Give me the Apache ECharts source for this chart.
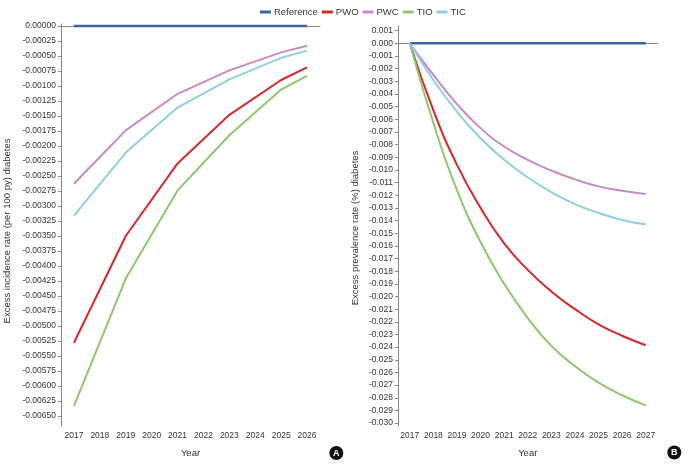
<!DOCTYPE html>
<html>
<head>
<meta charset="utf-8">
<script src="https://cdn.jsdelivr.net/npm/echarts@6/dist/echarts.min.js"></script>
<style>
html,body{margin:0;padding:0;background:#fff;}
#chart{width:690px;height:464px;}
</style>
</head>
<body>
<div id="chart"></div>
<script>
// ---- Data ----
var seriesNames = ['Reference', 'PWO', 'PWC', 'TIO', 'TIC'];

// Panel A: excess incidence rate (per 100 py), vertices at odd years + 2026
var incidenceYears = ['2017','2018','2019','2020','2021','2022','2023','2024','2025','2026'];
var incReference = [0, null, 0, null, 0, null, 0, null, 0, 0];
var incPWO = [-0.00528, null, -0.00350, null, -0.00229, null, -0.00148, null, -0.00090, -0.00069];
var incPWC = [-0.00263, null, -0.00174, null, -0.00113, null, -0.00074, null, -0.00044, -0.00033];
var incTIO = [-0.00633, null, -0.00421, null, -0.00274, null, -0.00182, null, -0.00106, -0.00083];
var incTIC = [-0.00316, null, -0.00211, null, -0.00136, null, -0.00089, null, -0.00053, -0.00041];

// Panel B: excess prevalence rate (%)
var prevalenceYears = ['2017','2018','2019','2020','2021','2022','2023','2024','2025','2026','2027'];
var prevReference = [0, 0, 0, 0, 0, 0, 0, 0, 0, 0, 0];
var prevPWO = [0, -0.0053, -0.0096, -0.0130, -0.0158, -0.0179, -0.0196, -0.0210, -0.0222, -0.0231, -0.02385];
var prevPWC = [0, -0.0025, -0.0048, -0.0067, -0.00815, -0.0092, -0.01005, -0.01075, -0.0113, -0.01165, -0.0119];
var prevTIO = [0, -0.0063, -0.0116, -0.0157, -0.0190, -0.0217, -0.0239, -0.0255, -0.0268, -0.0278, -0.0286];
var prevTIC = [0, -0.0029, -0.0054, -0.0075, -0.0092, -0.0106, -0.01175, -0.0127, -0.0134, -0.01395, -0.0143];

// Tick labels
var incidenceTicks = [];
for (var i = 0; i <= 26; i++) incidenceTicks.push(-i * 0.00025);
var prevalenceTicks = [];
for (var j = -1; j <= 30; j++) prevalenceTicks.push(-j / 1000);

// ---- Styling ----
var colors = {
  'Reference': '#3b63a6',
  'PWO': '#d8262d',
  'PWC': '#c88ac2',
  'TIO': '#8dc86e',
  'TIC': '#90cfe2'
};
var FONT = "'Liberation Sans', Arial, sans-serif";
var axisColor = '#888888';
var textColor = '#333333';

function makeSeries(name, data, idx, smooth) {
  return {
    name: name,
    type: 'line',
    xAxisIndex: idx,
    yAxisIndex: idx,
    data: data,
    connectNulls: true,
    smooth: smooth ? 0.5 : false,
    showSymbol: false,
    symbol: 'none',
    animation: false,
    lineStyle: { color: colors[name], width: name === 'Reference' ? 2.5 : 2 },
    itemStyle: { color: colors[name] },
    z: name === 'Reference' ? 1 : 2
  };
}

function xAxisDef(idx, cats) {
  return {
    type: 'category',
    gridIndex: idx,
    data: cats,
    boundaryGap: true,
    name: 'Year',
    nameLocation: 'middle',
    nameGap: 22,
    nameTextStyle: { fontFamily: FONT, fontSize: 9.5, color: textColor },
    axisLine: { lineStyle: { color: axisColor, width: 1 } },
    axisTick: { alignWithLabel: true, length: 3, lineStyle: { color: axisColor } },
    axisLabel: { interval: 0, margin: 5, fontFamily: FONT, fontSize: 8.5, color: textColor },
    splitLine: { show: false }
  };
}

function yAxisDef(idx, min, max, ticks, digits, name, gap, shift) {
  return {
    type: 'value',
    gridIndex: idx,
    min: min,
    max: max,
    name: name,
    nameLocation: 'middle',
    nameGap: gap,
    nameTextStyle: { fontFamily: FONT, fontSize: 9.5, color: textColor, padding: [0, shift, 0, 0] },
    axisLine: { show: true, lineStyle: { color: axisColor, width: 1 } },
    axisTick: { show: true, length: 3, customValues: ticks, lineStyle: { color: axisColor } },
    axisLabel: {
      margin: 5, fontFamily: FONT, fontSize: 8.5, color: textColor,
      customValues: ticks,
      formatter: function (v) { return (Math.abs(v) < 1e-12 ? 0 : v).toFixed(digits); }
    },
    splitLine: { show: false }
  };
}

var series = [];
var incData = { 'Reference': incReference, 'PWO': incPWO, 'PWC': incPWC, 'TIO': incTIO, 'TIC': incTIC };
var prevData = { 'Reference': prevReference, 'PWO': prevPWO, 'PWC': prevPWC, 'TIO': prevTIO, 'TIC': prevTIC };
seriesNames.forEach(function (n) { series.push(makeSeries(n, incData[n], 0, false)); });
seriesNames.forEach(function (n) { series.push(makeSeries(n, prevData[n], 1, true)); });

var option = {
  backgroundColor: '#ffffff',
  animation: false,
  legend: {
    data: seriesNames.map(function (n) { return { name: n, icon: 'rect', itemStyle: { color: colors[n] } }; }),
    left: 255,
    top: 2,
    itemWidth: 11,
    itemHeight: 3,
    itemGap: 4,
    textStyle: { fontFamily: FONT, fontSize: 9.5, color: textColor, padding: [0, 0, 0, -2] }
  },
  grid: [
    { left: 61, top: 24, width: 259, height: 402 },
    { left: 398, top: 26, width: 259.5, height: 400 }
  ],
  xAxis: [xAxisDef(0, incidenceYears), xAxisDef(1, prevalenceYears)],
  yAxis: [
    yAxisDef(0, -0.0066667, 0.0000333, incidenceTicks, 5, 'Excess incidence rate (per 100 py) diabetes', 49, 12),
    yAxisDef(1, -0.030229, 0.001367, prevalenceTicks, 3, 'Excess prevalence rate (%) diabetes', 38, 4)
  ],
  series: series,
  graphic: [
    { type: 'circle', shape: { cx: 336.3, cy: 453, r: 7 }, style: { fill: '#111111' } },
    { type: 'text', x: 336.3, y: 453.5, style: { text: 'A', fill: '#ffffff', font: 'bold 9px ' + FONT, textAlign: 'center', textVerticalAlign: 'middle' } },
    { type: 'circle', shape: { cx: 674.3, cy: 452.5, r: 7 }, style: { fill: '#111111' } },
    { type: 'text', x: 674.3, y: 453, style: { text: 'B', fill: '#ffffff', font: 'bold 9px ' + FONT, textAlign: 'center', textVerticalAlign: 'middle' } }
  ]
};

var chart = echarts.init(document.getElementById('chart'), null, { renderer: 'canvas' });
chart.setOption(option);
</script>
</body>
</html>
